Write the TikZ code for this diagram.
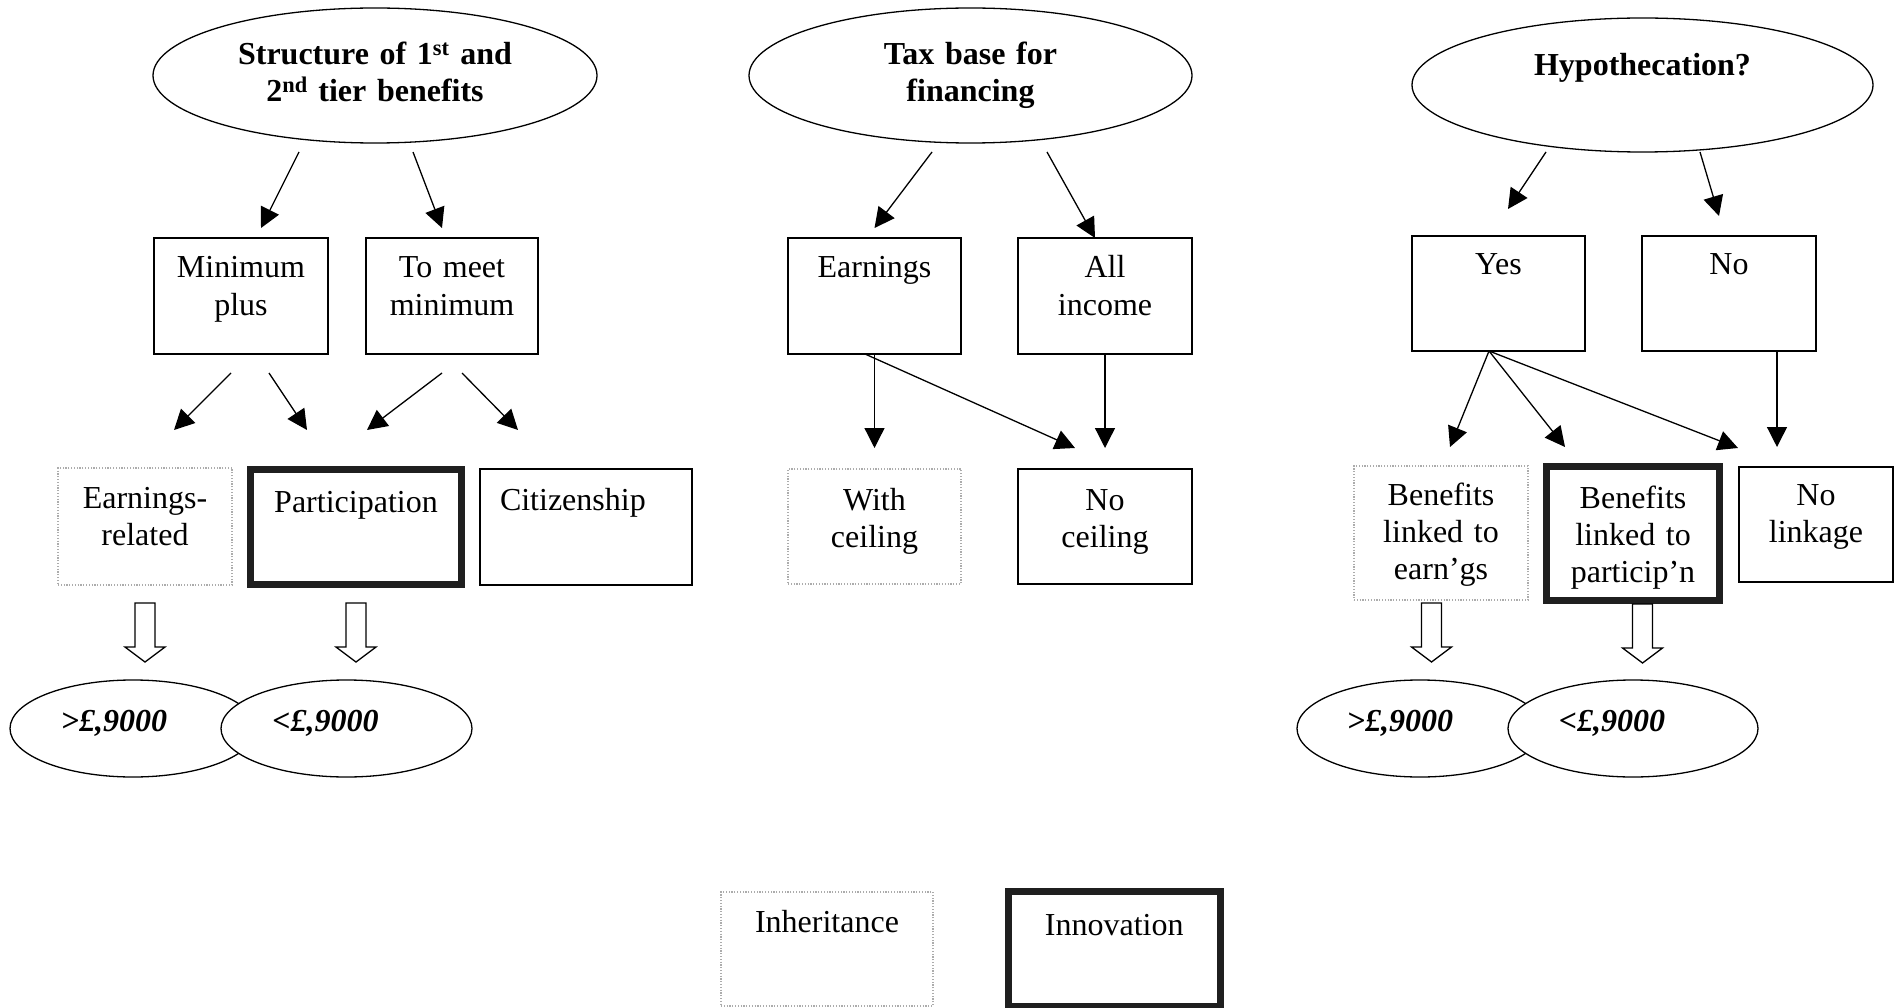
\documentclass[tikz,border=0pt]{standalone}
\usepackage{fontspec}
\setmainfont{Liberation Serif}
\usetikzlibrary{arrows.meta, shapes.geometric}

\tikzset{
  thinline/.style={line width=1.3pt},
  cell/.style={draw, thinline, inner sep=0pt, outer sep=0pt, anchor=north west,
    align=center, text height=40pt},
  inherit/.style={cell, draw=gray!65, line width=1.2pt, dash pattern=on 1.2pt off 1.6pt},
  innov/.style={cell, draw=black!88, line width=7pt, text height=43pt},
  heading/.style={ellipse, draw, thinline, inner sep=0pt, outer sep=0pt, font=\bfseries,
    align=center, text width=300pt, text height=25pt, text depth=46pt},
  band/.style={ellipse, draw, thinline, fill=white, inner sep=0pt, outer sep=0pt,
    font=\bfseries\itshape, minimum width=246pt, minimum height=97pt,
    text height=25pt, text depth=20pt},
  arr/.style={thinline, -{Triangle[length=20pt, width=20pt]}},
  hollowdown/.pic={
    \draw[thinline, fill=white] (-10,0) -- (-10,44) -- (-20,44) -- (0,59)
      -- (20,44) -- (10,44) -- (10,0) -- cycle;
  }
}

\begin{document}
\fontsize{32}{37}\selectfont
\begin{tikzpicture}[x=1pt, y=-1pt]
\useasboundingbox (0,0) rectangle (1900,1008);

% Structure of benefits
\node[heading, minimum width=444pt, minimum height=135pt] (struct) at (375,75.5)
  {Structure of 1\textsuperscript{st} and\\2\textsuperscript{nd} tier benefits};
\node[cell, text width=174pt, text depth=76pt] (minplus) at (154,238) {Minimum\\plus};
\node[cell, text width=172pt, text depth=76pt] (tomeet) at (366,238) {To meet\\minimum};
\node[inherit, text width=174pt, text depth=77pt] (earnrel) at (58,468) {Earnings-\\related};
\node[innov, text width=211pt, text depth=72pt] (particip) at (250.5,469.5) {Participation};
\node[cell, align=left, text width=212pt, text height=41pt, text depth=75pt] (citizen) at (480,469)
  {\hspace*{20pt}Citizenship};
\node[band] (over1) at (133,728.5) {>£,9000\hspace*{38pt}};
\node[band, minimum width=251pt] (under1) at (346.5,728.5) {<£,9000\hspace*{42pt}};

\draw[arr] ([xshift=-76pt, yshift=-9pt]struct.south) -- ([xshift=20pt, yshift=10pt]minplus.north);
\draw[arr] ([xshift=38pt, yshift=-9pt]struct.south) -- ([xshift=-10pt, yshift=10pt]tomeet.north);
\draw[arr] ([xshift=-10pt, yshift=-19pt]minplus.south) -- ([xshift=29pt, yshift=38pt]earnrel.north);
\draw[arr] ([xshift=28pt, yshift=-19pt]minplus.south) -- ([xshift=-49pt, yshift=39.5pt]particip.north);
\draw[arr] ([xshift=-10pt, yshift=-19pt]tomeet.south) -- ([xshift=11pt, yshift=39.5pt]particip.north);
\draw[arr] ([xshift=10pt, yshift=-19pt]tomeet.south) -- ([xshift=-68pt, yshift=39pt]citizen.north);
\pic at ([yshift=-18pt]earnrel.south) {hollowdown};
\pic at ([yshift=-18.5pt]particip.south) {hollowdown};

% Tax base
\node[heading, minimum width=443pt, minimum height=135pt] (taxbase) at (970.5,75.5)
  {Tax base for\\financing};
\node[cell, text width=173pt, text depth=76pt] (earn) at (788,238) {Earnings};
\node[cell, text width=174pt, text depth=76pt] (allinc) at (1018,238) {All\\income};
\node[inherit, text width=173pt, text height=41pt, text depth=74pt] (withceil) at (788,469) {With\\ceiling};
\node[cell, text width=174pt, text height=41pt, text depth=74pt] (noceil) at (1018,469) {No\\ceiling};

\draw[arr] ([xshift=-38.5pt, yshift=-9pt]taxbase.south) -- ([yshift=10pt]earn.north);
\draw[arr] ([xshift=76.5pt, yshift=-9pt]taxbase.south) -- ([xshift=-10pt]allinc.north);
\draw[arr] (earn.south) -- ([yshift=21pt]withceil.north);
\draw[arr] ([xshift=-9.5pt]earn.south) -- ([xshift=-30pt, yshift=21pt]noceil.north);
\draw[arr] (allinc.south) -- ([yshift=21pt]noceil.north);

% Hypothecation
\node[heading, minimum width=461pt, minimum height=134pt, text depth=43pt] (hypo) at (1642.5,85)
  {Hypothecation?};
\node[cell, text width=173pt, text height=39pt, text depth=76pt] (yes) at (1412,236) {Yes};
\node[cell, text width=174pt, text height=39pt, text depth=76pt] (no) at (1642,236) {No};
\node[inherit, text width=174pt, text height=39pt, text depth=95pt] (benearn) at (1354,466)
  {Benefits\\linked to\\earn’gs};
\node[innov, text width=173pt, text height=42pt, text depth=92pt] (benpart) at (1546.5,466.5)
  {Benefits\\linked to\\particip’n};
\node[cell, text width=154pt, text height=38pt, text depth=77pt] (nolink) at (1739,467) {No\\linkage};
\node[band] (over2) at (1420,728.5) {>£,9000\hspace*{40pt}};
\node[band, minimum width=250pt] (under2) at (1633,728.5) {<£,9000\hspace*{42pt}};

\draw[arr] ([xshift=-96.5pt]hypo.south) -- ([xshift=9.5pt, yshift=27pt]yes.north);
\draw[arr] ([xshift=57.5pt]hypo.south) -- ([xshift=-10pt, yshift=20pt]no.north);
\draw[arr] ([xshift=-9.5pt]yes.south) -- ([xshift=9pt, yshift=19pt]benearn.north);
\draw[arr] ([xshift=-9.5pt]yes.south) -- ([xshift=-68pt, yshift=19.5pt]benpart.north);
\draw[arr] ([xshift=-9.5pt]yes.south) -- ([xshift=-78pt, yshift=19pt]nolink.north);
\draw[arr] ([xshift=48pt]no.south) -- ([xshift=-39pt, yshift=20pt]nolink.north);
\pic at ([xshift=-9.5pt, yshift=-3pt]benearn.south) {hollowdown};
\pic at ([xshift=9.5pt, yshift=-3.5pt]benpart.south) {hollowdown};

% Key
\node[inherit, text width=212pt, text depth=74pt] (keyinh) at (721,892) {Inheritance};
\node[innov, text width=211.5pt, text height=44pt, text depth=71.5pt] (keyinn) at (1008.5,891) {Innovation};
\end{tikzpicture}
\end{document}
